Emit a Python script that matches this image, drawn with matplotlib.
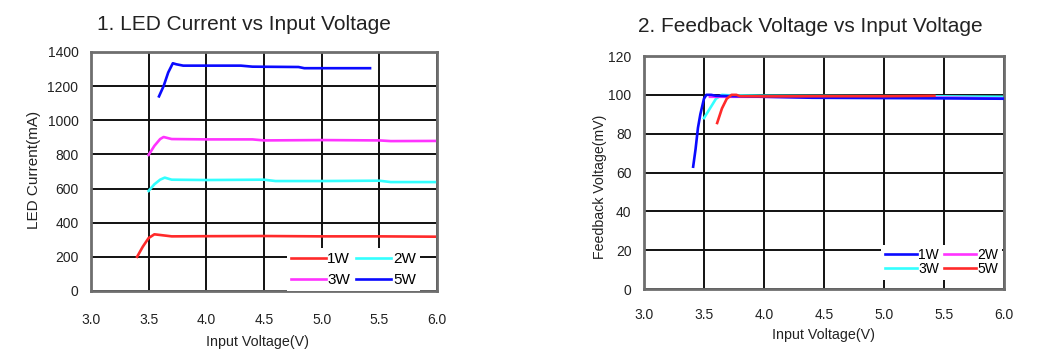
import matplotlib
matplotlib.use("Agg")
import matplotlib.pyplot as plt

plt.rcParams["font.family"] = ["Liberation Sans", "DejaVu Sans"]

# ---- chart 1: LED current (mA) vs input voltage (V) ----
led_1w_v = [3.40, 3.45, 3.50, 3.55, 3.60, 3.70, 4.0, 4.5, 5.0, 5.5, 6.0]
led_1w_i = [200, 260, 310, 332, 328, 320, 321, 322, 320, 320, 318]
led_2w_v = [3.50, 3.55, 3.60, 3.64, 3.70, 4.0, 4.5, 4.6, 5.0, 5.5, 5.6, 6.0]
led_2w_i = [586, 625, 652, 664, 652, 650, 652, 644, 644, 646, 638, 638]
led_3w_v = [3.50, 3.55, 3.60, 3.63, 3.70, 4.0, 4.4, 4.5, 5.0, 5.5, 5.6, 6.0]
led_3w_i = [797, 850, 890, 902, 890, 888, 888, 882, 884, 882, 878, 879]
led_5w_v = [3.59, 3.63, 3.67, 3.71, 3.74, 3.80, 4.0, 4.3, 4.4, 4.8, 4.85, 5.42]
led_5w_i = [1140, 1200, 1280, 1334, 1328, 1320, 1320, 1320, 1314, 1312, 1305, 1305]

# ---- chart 2: feedback voltage (mV) vs input voltage (V) ----
fb_1w_v = [3.41, 3.43, 3.45, 3.47, 3.50, 3.52, 3.56, 3.60, 4.0, 4.4, 5.2, 6.0]
fb_1w_mv = [63, 72, 83, 90, 98, 100, 100, 99.5, 99, 98.5, 98.3, 98]
fb_2w_v = [3.55, 3.60, 4.0, 5.0, 5.6, 6.0]
fb_2w_mv = [99, 99, 99, 98.8, 98.5, 98]
fb_3w_v = [3.50, 3.55, 3.60, 3.65, 3.70, 4.0, 5.0, 5.5, 6.0]
fb_3w_mv = [88, 93, 98, 100, 99.8, 99.5, 99.3, 99.2, 99]
fb_5w_v = [3.61, 3.65, 3.69, 3.73, 3.77, 3.80, 4.0, 4.5, 5.0, 5.42]
fb_5w_mv = [85.5, 93, 98, 100, 100, 99.3, 99.2, 99.3, 99.3, 99.5]

x_ticks = [3.0, 3.5, 4.0, 4.5, 5.0, 5.5, 6.0]
led_ticks = list(range(0, 1401, 200))
fb_ticks = list(range(0, 121, 20))

RED, CYAN, MAGENTA, BLUE = "#ff2a2a", "#33ffff", "#ff33ff", "#0a0aff"
TXT = "#222222"


def style_axes(ax, yticks, xpad):
    ax.set_xlim(3.0, 6.0)
    ax.set_ylim(yticks[0], yticks[-1])
    ax.set_xticks(x_ticks)
    ax.set_xticklabels([f"{t:.1f}" for t in x_ticks])
    ax.set_yticks(yticks)
    ax.grid(True, color="#111111", linewidth=1.4)
    ax.set_axisbelow(True)
    ax.tick_params(length=0, labelsize=10, colors=TXT)
    ax.tick_params(axis="x", pad=xpad)
    ax.tick_params(axis="y", pad=9)
    for s in ax.spines.values():
        s.set_color("#6e6e6e")
        s.set_linewidth(2)


def add_legend(ax, labels, anchor, size, spacing):
    # matplotlib fills legend columns first; reorder so rows read 1W 2W / 3W 5W
    h, l = ax.get_legend_handles_labels()
    order = [l.index(k) for k in labels]
    leg = ax.legend([h[i] for i in order], [l[i] for i in order], ncol=2,
                    loc="lower right", bbox_to_anchor=anchor, fontsize=size,
                    frameon=True, fancybox=False, framealpha=1,
                    facecolor="white", edgecolor="none", handlelength=2.3,
                    handletextpad=0.1, columnspacing=0.4,
                    labelspacing=spacing, borderpad=0.25, borderaxespad=0)
    leg.set_zorder(5)


fig = plt.figure(figsize=(10.43, 3.6), dpi=100)
lw = 1.9

ax1 = fig.add_axes([0.0872, 0.1917, 0.3317, 0.6639])
ax1.plot(led_1w_v, led_1w_i, color=RED, lw=lw, label="1W")
ax1.plot(led_2w_v, led_2w_i, color=CYAN, lw=lw, label="2W")
ax1.plot(led_3w_v, led_3w_i, color=MAGENTA, lw=lw, label="3W")
ax1.plot(led_5w_v, led_5w_i, color=BLUE, lw=lw, label="5W")
style_axes(ax1, led_ticks, 16)
add_legend(ax1, ["1W", "3W", "2W", "5W"], (0.95, 0.0), 11, 0.45)

ax2 = fig.add_axes([0.6174, 0.1972, 0.3452, 0.6472])
ax2.plot(fb_3w_v, fb_3w_mv, color=CYAN, lw=lw, label="3W", zorder=2)
ax2.plot(fb_2w_v, fb_2w_mv, color=MAGENTA, lw=lw, label="2W", zorder=2)
ax2.plot(fb_1w_v, fb_1w_mv, color=BLUE, lw=lw, label="1W", zorder=3)
ax2.plot(fb_5w_v, fb_5w_mv, color=RED, lw=lw, label="5W", zorder=4)
style_axes(ax2, fb_ticks, 14)
add_legend(ax2, ["1W", "3W", "2W", "5W"], (0.995, 0.04), 10, 0.0)

fig.text(244 / 1043, 1 - 25 / 360, "1. LED Current vs Input Voltage",
         ha="center", va="center", fontsize=15, color=TXT)
fig.text(810 / 1043, 1 - 26 / 360, "2. Feedback Voltage vs Input Voltage",
         ha="center", va="center", fontsize=15, color=TXT)
fig.text(257 / 1043, 1 - 342 / 360, "Input Voltage(V)", ha="center",
         va="center", fontsize=10.3, color=TXT)
fig.text(823 / 1043, 1 - 335 / 360, "Input Voltage(V)", ha="center",
         va="center", fontsize=10.3, color=TXT)
fig.text(34 / 1043, 1 - 170 / 360, "LED Current(mA)", ha="center",
         va="center", rotation=90, fontsize=11, color=TXT)
fig.text(600 / 1043, 1 - 187 / 360, "Feedback Voltage(mV)", ha="center",
         va="center", rotation=90, fontsize=10.2, color=TXT)

fig.savefig("out.png", dpi=100, facecolor="white")
